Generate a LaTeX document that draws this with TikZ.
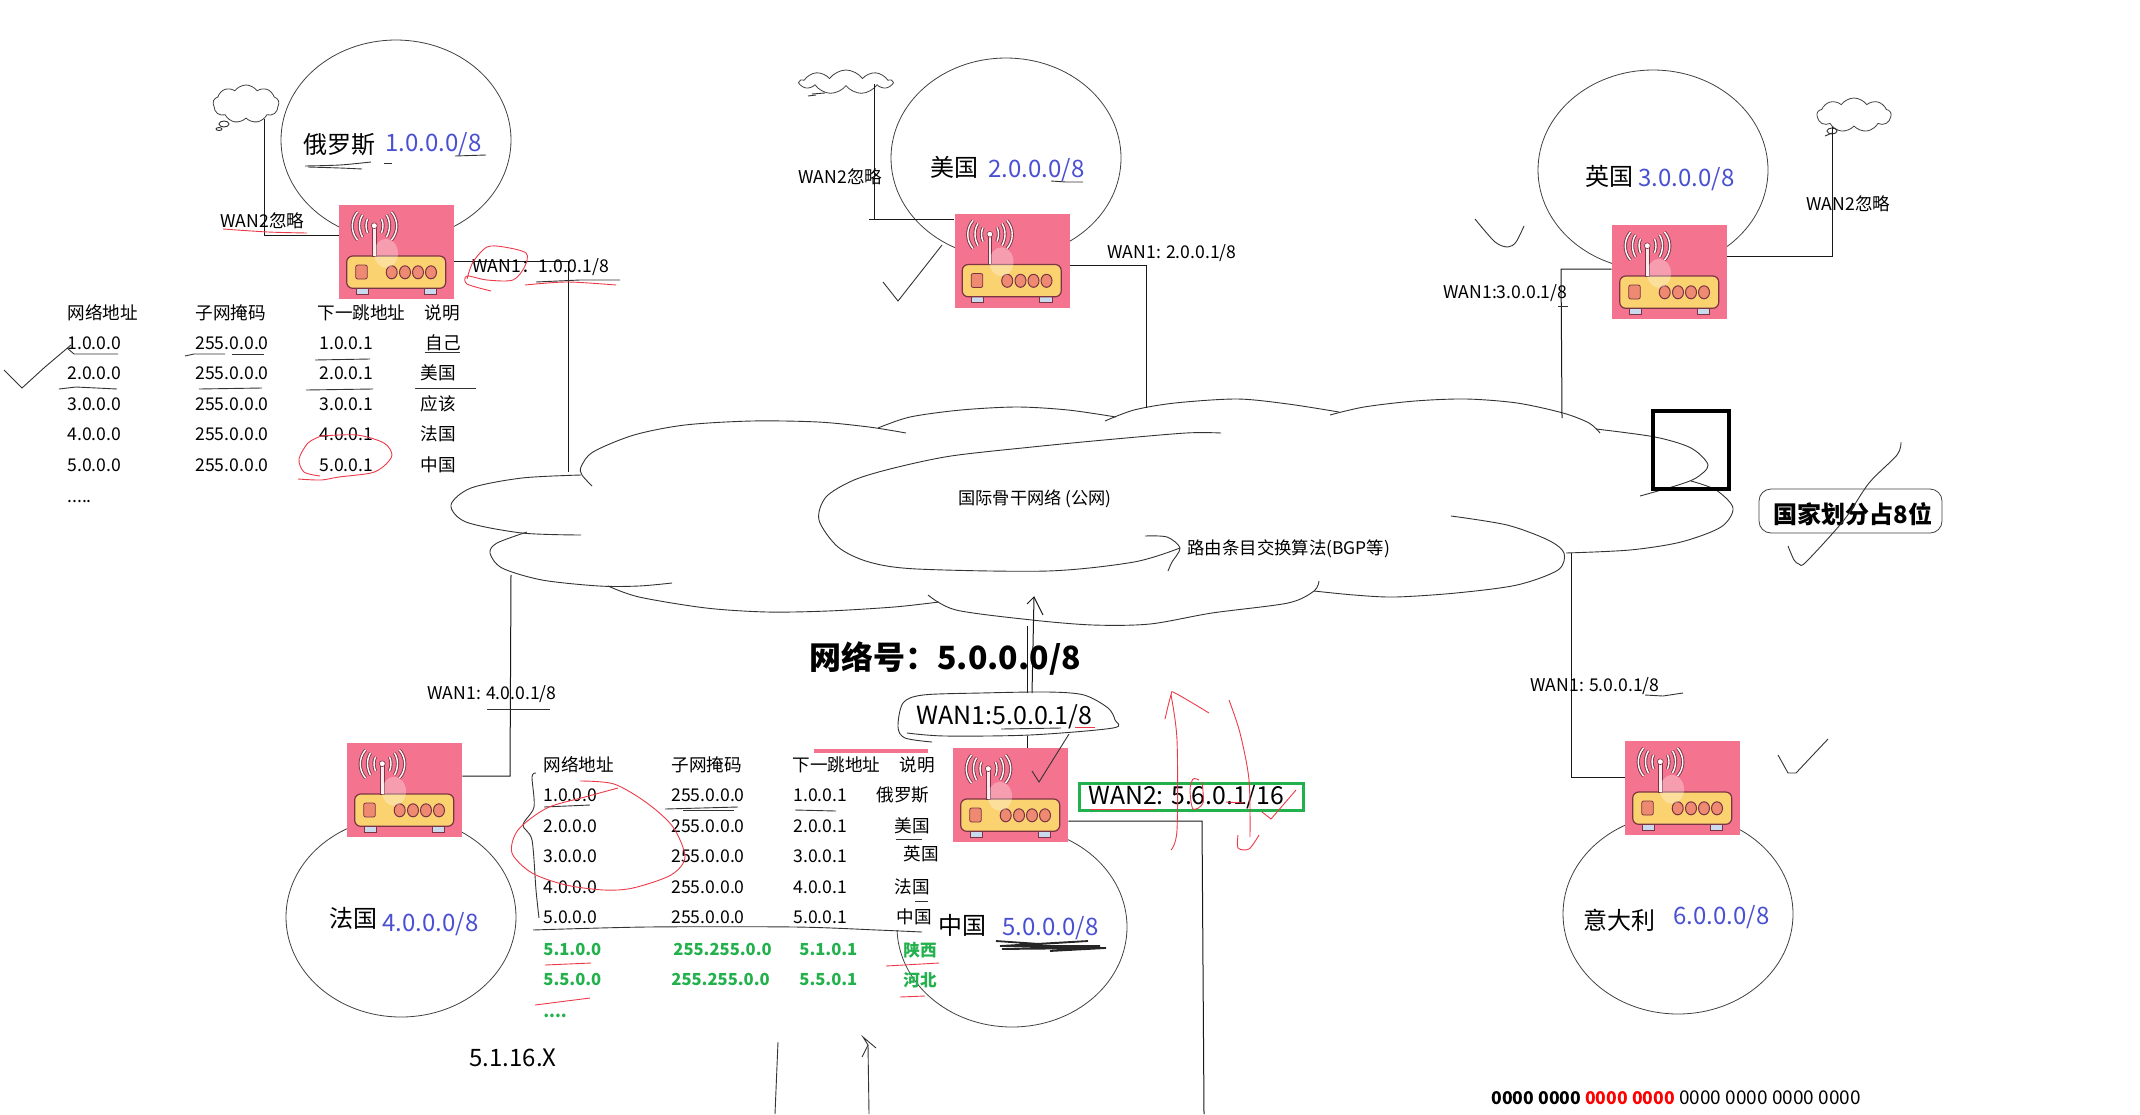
\documentclass[tikz,border=0pt]{standalone}
\usepackage{fontspec}
\setmainfont{Noto Sans CJK SC}
\usetikzlibrary{shapes.geometric, shapes.symbols}

\definecolor{routerpink}{HTML}{F4738F}
\definecolor{routerbody}{HTML}{FBD270}
\definecolor{routerlamp}{HTML}{EF8A72}
\definecolor{routerfoot}{HTML}{C9D9EE}
\definecolor{routerdark}{HTML}{7A3444}
\definecolor{netblue}{HTML}{4A50D2}
\definecolor{routegreen}{HTML}{22B14C}
\definecolor{redpen}{HTML}{EC3A4A}

\tikzset{
	lab/.style={anchor=west, inner sep=0pt, text height=7pt, text depth=1pt, font=\fontsize{8.8}{11}\selectfont},
	big/.style={anchor=west, inner sep=0pt, text height=9.5pt, text depth=1.5pt, font=\fontsize{12}{14}\selectfont},
	net/.style={big, text=netblue},
	newrow/.style={lab, text=routegreen, font=\fontsize{8.3}{11}\selectfont\bfseries},
	country/.style={draw=black!75, line width=0.4pt, ellipse, inner sep=0pt, minimum width=115pt, minimum height=100pt},
	sky/.style={draw=black!75, line width=0.4pt, cloud, cloud puffs=9, cloud puff arc=110, inner sep=0pt},
	wire/.style={line width=0.5pt, black!90},
	ink/.style={line width=0.45pt, black!80},
	redink/.style={line width=0.45pt, redpen},
	aerial/.style={draw=routerdark, double=white, double distance=0.7pt, line width=0.45pt},
	router/.pic={
		\node (box) [fill=routerpink, inner sep=0pt, minimum width=57.5pt, minimum height=47pt] at (0,0) {};
		\draw [draw=routerdark, fill=routerfoot, line width=0.4pt] (-40.5,34) rectangle (-28.2,42);
		\draw [draw=routerdark, fill=routerfoot, line width=0.4pt] (27.5,34) rectangle (40,42);
		\draw [draw=routerdark, fill=routerbody, line width=0.6pt, rounded corners=3pt] (-49.8,4) rectangle (49.2,36.3);
		\draw [draw=routerdark, fill=routerlamp, line width=0.4pt, rounded corners=1pt] (-40.8,13) rectangle (-29.2,27);
		\draw [draw=routerdark, fill=routerlamp, line width=0.5pt] (-4.8,20.3) ellipse [x radius=5.5, y radius=6.5];
		\draw [draw=routerdark, fill=routerlamp, line width=0.5pt] (8.5,20.3) ellipse [x radius=5.5, y radius=6.5];
		\draw [draw=routerdark, fill=routerlamp, line width=0.5pt] (21.5,20.3) ellipse [x radius=5.5, y radius=6.5];
		\draw [draw=routerdark, fill=routerlamp, line width=0.5pt] (34.5,20.3) ellipse [x radius=5.5, y radius=6.5];
		\draw [draw=routerdark, fill=white!85!routerpink, line width=0.3pt] (-23.8,-25) rectangle (-20.6,4);
		\draw [draw=routerdark, fill=white, line width=0.3pt] (-22.2,-26.3) circle [radius=2.9];
		\draw [aerial] (-29,-33) .. controls (-31,-29) and (-31,-24) .. (-29,-19);
		\draw [aerial] (-34,-37) .. controls (-38,-31) and (-38,-22) .. (-34,-15);
		\draw [aerial] (-39,-40) .. controls (-46,-32) and (-46,-20) .. (-39,-12);
		\draw [aerial] (-15,-33) .. controls (-13,-29) and (-13,-24) .. (-15,-19);
		\draw [aerial] (-10,-37) .. controls (-6,-31) and (-6,-22) .. (-10,-15);
		\draw [aerial] (-5,-40) .. controls (2,-32) and (2,-20) .. (-5,-12);
		\fill [white, opacity=0.3] (-10.5,1.3) ellipse [x radius=12, y radius=14.5];
	}
}

\begin{document}
\begin{tikzpicture}[x=0.5pt, y=-0.5pt]
	\useasboundingbox (0,0) rectangle (2140,1114);

	% countries
	\node (rucircle) [country] at (396,140) {};
	\node (uscircle) [country] at (1006,158) {};
	\node (ukcircle) [country] at (1653,170) {};
	\node (frcircle) [country] at (401,917) {};
	\node (cncircle) [country] at (1012,927) {};
	\node (itcircle) [country] at (1678,914) {};
	\fill [white] (880,740) rectangle (953,930);

	% routers
	\pic (ru) at (396.5,252) {router};
	\pic (us) at (1012,260.5) {router};
	\pic (uk) at (1669.5,272) {router};
	\pic (fr) at (404.5,790) {router};
	\pic (cn) at (1010.5,795) {router};
	\pic (it) at (1682.5,788) {router};

	% small clouds
	\node (rusky) [sky, aspect=1.7, minimum width=33pt, minimum height=19pt] at (246,104) {};
	\draw [ink] (224,124) ellipse [x radius=5, y radius=3];
	\draw [ink] (219,129) ellipse [x radius=3, y radius=1.5];
	\node (ussky) [sky, aspect=4, minimum width=46pt, minimum height=12pt] at (846,82) {};
	\draw [ink] (812,94) -- (825,93);
	\draw [ink] (808,96) -- (816,95);
	\node (uksky) [sky, aspect=2, minimum width=37pt, minimum height=17pt] at (1854,115) {};
	\draw [ink] (1832,131) ellipse [x radius=5, y radius=3];
	\draw [ink] (1825,136) -- (1832,133);

	% main cloud
	\draw [ink] plot [smooth] coordinates {(581,475) (522,478) (471,488) (451,505) (466,522) (522,533) (581,535)};
	\draw [ink] plot [smooth] coordinates {(592,486) (582,475) (581,467) (593,452) (634,435) (685,425) (752,421) (818,422) (869,427) (906,433)};
	\draw [ink] plot [smooth] coordinates {(878,428) (910,417) (961,410) (1017,407) (1068,410) (1116,417)};
	\draw [ink] plot [smooth] coordinates {(1105,421) (1134,410) (1175,403) (1237,399) (1288,404) (1339,412)};
	\draw [ink] plot [smooth] coordinates {(1330,415) (1364,407) (1415,401) (1466,399) (1517,403) (1563,413) (1589,423) (1600,433)};
	\draw [ink] plot [smooth] coordinates {(1596,429) (1655,437) (1691,448) (1708,465) (1696,478) (1675,486) (1640,496)};
	\draw [ink] plot [smooth] coordinates {(1691,481) (1716,490) (1733,508) (1721,527) (1681,542) (1630,550) (1566,553)};
	\draw [ink] plot [smooth] coordinates {(1451,516) (1507,525) (1548,540) (1564,553) (1558,570) (1517,585) (1456,593) (1395,597) (1354,595) (1314,591)};
	\draw [ink] plot [smooth] coordinates {(928,595) (956,610) (1032,620) (1093,625) (1150,624) (1212,613) (1288,603) (1314,591) (1319,581)};
	\draw [ink] plot [smooth] coordinates {(608,586) (639,597) (706,608) (767,612) (828,611) (894,607) (939,602)};
	\draw [ink] plot [smooth] coordinates {(527,532) (497,543) (490,553) (502,568) (542,580) (599,586) (639,586) (672,583)};

	% inner cloud, ending in the arrow
	\draw [ink] plot [smooth] coordinates {(1221,433) (1186,433) (1104,440) (1032,447) (951,456) (894,468) (854,480) (826,497) (819,520) (838,547) (869,562) (917,569) (1048,571) (1134,562) (1180,548)};
	\draw [ink] plot [smooth] coordinates {(1145,536) (1167,537) (1180,548) (1172,562) (1168,571)};

	% WAN1 lines
	\coordinate (ruturn) at (568,261);
	\coordinate (ruend) at (568,472);
	\draw [wire] (rubox.east |- ruturn) -- (ruturn) -- (ruend);
	\coordinate (usturn) at (1146,265);
	\coordinate (usend) at (1146,408);
	\draw [wire] (usbox.east |- usturn) -- (usturn) -- (usend);
	\coordinate (ukturn) at (1561,269);
	\coordinate (ukend) at (1562,418);
	\draw [wire] (ukbox.west |- ukturn) -- (ukturn) -- (ukend);
	\coordinate (frturn) at (510,776);
	\coordinate (frend) at (511,575);
	\draw [wire] (frbox.east |- frturn) -- (frturn) -- (frend);
	\coordinate (itturn) at (1571,777);
	\coordinate (itend) at (1571,553);
	\draw [wire] (itbox.west |- itturn) -- (itturn) -- (itend);

	% WAN2 lines
	\coordinate (ruskyturn) at (264,235);
	\draw [wire] (rubox.west |- ruskyturn) -- (ruskyturn) -- (ruskyturn |- rusky.south);
	\coordinate (usskyturn) at (874,219);
	\coordinate (usskyend) at (874,84);
	\draw [wire] (usbox.west |- usskyturn) -- (869,219);
	\draw [wire] (usskyturn) -- (usskyend);
	\coordinate (ukskyturn) at (1832,256);
	\draw [wire] (ukbox.east |- ukskyturn) -- (ukskyturn) -- (ukskyturn |- uksky.south);
	\coordinate (cnturn) at (1202,821);
	\coordinate (cnend) at (1204,1114);
	\draw [wire] (cnbox.east |- cnturn) -- (cnturn) -- (cnend);

	% China WAN1 and the lines going up
	\coordinate (cnupa) at (1027,693);
	\coordinate (cnupb) at (1027,626);
	\coordinate (cnupc) at (1032,693);
	\coordinate (cnupd) at (1034,597);
	\draw [wire] (cnbox.north -| cnupa) -- (1027,736);
	\draw [wire] (cnupa) -- (cnupb);
	\draw [wire] (cnupc) -- (cnupd);
	\draw [wire] (1027,604) -- (cnupd) -- (1043,615);
	\coordinate (lowa) at (778,1042);
	\coordinate (lowb) at (775,1114);
	\draw [ink] (lowa) -- (lowb);
	\coordinate (lowc) at (869,1114);
	\coordinate (lowd) at (868,1045);
	\draw [ink] (lowc) -- (lowd);
	\draw [ink] (862,1057) -- (868,1045) -- (863,1037) -- (876,1048);

	% country names
	\node (runame) [big] at (303,145) {俄罗斯};
	\node (runet) [net] at (385,143) {1.0.0.0/8};
	\node (usname) [big] at (930,168) {美国};
	\node (usnet) [net] at (988,169) {2.0.0.0/8};
	\node (ukname) [big] at (1585,177) {英国};
	\node (uknet) [net] at (1638,178) {3.0.0.0/8};
	\node (frname) [big] at (329,919) {法国};
	\node (frnet) [net] at (382,923) {4.0.0.0/8};
	\node (cnname) [big] at (938,926) {中国};
	\node (cnnet) [net] at (1002,927) {5.0.0.0/8};
	\node (itname) [big] at (1583,921) {意大利};
	\node (itnet) [net] at (1673,916) {6.0.0.0/8};

	% interface labels
	\node (ruwan2) [lab] at (220,221) {WAN2忽略};
	\node (ruwan1) [lab] at (472,266) {WAN1：1.0.0.1/8};
	\node (uswan2) [lab] at (798,177) {WAN2忽略};
	\node (uswan1) [lab] at (1107,252) {WAN1: 2.0.0.1/8};
	\node (ukwan1) [lab] at (1443,292) {WAN1:3.0.0.1/8};
	\node (ukwan2) [lab] at (1806,204) {WAN2忽略};
	\node (frwan1) [lab] at (427,693) {WAN1: 4.0.0.1/8};
	\node (itwan1) [lab] at (1530,685) {WAN1: 5.0.0.1/8};
	\node (cnwan1) [big, font=\fontsize{12.5}{14}\selectfont] at (916,716) {WAN1:5.0.0.1/8};
	\node (cnwan2) [big, font=\fontsize{12.4}{14}\selectfont] at (1088,796) {WAN2: 5.6.0.1/16};
	\node (cnwan2box) [draw=routegreen, line width=1.2pt, inner sep=0pt, minimum width=112pt, minimum height=13.5pt] at (1191.5,797) {};

	% big captions
	\node (netno) [anchor=west, inner sep=0pt, font=\fontsize{16}{20}\selectfont\bfseries] at (809,659) {网络号：5.0.0.0/8};
	\node (backbone) [anchor=west, inner sep=0pt, font=\fontsize{8.6}{10}\selectfont] at (958,499) {国际骨干网络 (公网)};
	\node (bgp) [anchor=west, inner sep=0pt, font=\fontsize{8.7}{10}\selectfont] at (1187,549) {路由条目交换算法(BGP等)};
	\node (host) [big] at (469,1058) {5.1.16.X};
	\node (bits) [anchor=west, inner sep=0pt, font=\fontsize{9.5}{11}\selectfont] at (1491,1098) {{\fontsize{8.8}{11}\selectfont\bfseries 0000 0000 \textcolor{red}{0000 0000}} 0000 0000 0000 0000};

	% the square and the callout
	\node (mark) [draw, line width=2pt, inner sep=0pt, minimum width=38pt, minimum height=39pt] at (1691,450) {};
	\node (eightbits) [draw=black!75, line width=0.4pt, rounded corners=6pt, inner sep=0pt, minimum width=91.5pt, minimum height=22pt] at (1850.5,511) {};
	\node (eightbitstext) [anchor=center, inner sep=0pt, font=\fontsize{12}{14}\selectfont\bfseries] at (1853,514) {国家划分占8位};

	% table of the Russian router
	\node (ra0) [lab] at (67,313) {网络地址};
	\node (rb0) [lab] at (195,313) {子网掩码};
	\node (rc0) [lab] at (317,313) {下一跳地址};
	\node (rd0) [lab] at (424,313) {说明};
	\node (ra1) [lab] at (67,343) {1.0.0.0};
	\node (rb1) [lab] at (195,343) {255.0.0.0};
	\node (rc1) [lab] at (319,343) {1.0.0.1};
	\node (rd1) [lab] at (425,343) {自己};
	\node (ra2) [lab] at (67,373) {2.0.0.0};
	\node (rb2) [lab] at (195,373) {255.0.0.0};
	\node (rc2) [lab] at (319,373) {2.0.0.1};
	\node (rd2) [lab] at (420,373) {美国};
	\node (ra3) [lab] at (67,404) {3.0.0.0};
	\node (rb3) [lab] at (195,404) {255.0.0.0};
	\node (rc3) [lab] at (319,404) {3.0.0.1};
	\node (rd3) [lab] at (420,404) {应该};
	\node (ra4) [lab] at (67,434) {4.0.0.0};
	\node (rb4) [lab] at (195,434) {255.0.0.0};
	\node (rc4) [lab] at (319,434) {4.0.0.1};
	\node (rd4) [lab] at (420,434) {法国};
	\node (ra5) [lab] at (67,465) {5.0.0.0};
	\node (rb5) [lab] at (195,465) {255.0.0.0};
	\node (rc5) [lab] at (319,465) {5.0.0.1};
	\node (rd5) [lab] at (420,465) {中国};
	\node (ra6) [lab] at (67,496) {.....};

	% table of the Chinese router
	\node (ca0) [lab] at (543,765) {网络地址};
	\node (cb0) [lab] at (671,765) {子网掩码};
	\node (cc0) [lab] at (792,765) {下一跳地址};
	\node (cd0) [lab] at (899,765) {说明};
	\node (ca1) [lab] at (543,795) {1.0.0.0};
	\node (cb1) [lab] at (671,795) {255.0.0.0};
	\node (cc1) [lab] at (793,795) {1.0.0.1};
	\node (cd1) [lab] at (876,795) {俄罗斯};
	\node (ca2) [lab] at (543,826) {2.0.0.0};
	\node (cb2) [lab] at (671,826) {255.0.0.0};
	\node (cc2) [lab] at (793,826) {2.0.0.1};
	\node (cd2) [lab] at (894,826) {美国};
	\node (ca3) [lab] at (543,856) {3.0.0.0};
	\node (cb3) [lab] at (671,856) {255.0.0.0};
	\node (cc3) [lab] at (793,856) {3.0.0.1};
	\node (cd3) [lab] at (903,854) {英国};
	\node (ca4) [lab] at (543,887) {4.0.0.0};
	\node (cb4) [lab] at (671,887) {255.0.0.0};
	\node (cc4) [lab] at (793,887) {4.0.0.1};
	\node (cd4) [lab] at (894,887) {法国};
	\node (ca5) [lab] at (543,917) {5.0.0.0};
	\node (cb5) [lab] at (671,917) {255.0.0.0};
	\node (cc5) [lab] at (793,917) {5.0.0.1};
	\node (cd5) [lab] at (896,917) {中国};
	\node (ca6) [newrow] at (543,949) {5.1.0.0};
	\node (cb6) [newrow] at (673,949) {255.255.0.0};
	\node (cc6) [newrow] at (799,949) {5.1.0.1};
	\node (cd6) [newrow] at (903,950) {陕西};
	\node (ca7) [newrow] at (543,979) {5.5.0.0};
	\node (cb7) [newrow] at (671,979) {255.255.0.0};
	\node (cc7) [newrow] at (799,979) {5.5.0.1};
	\node (cd7) [newrow] at (903,980) {河北};
	\node (ca8) [newrow] at (543,1011) {....};
	\draw [line width=2pt, routerpink] (814,751) -- (928,751);

	% pen marks, black
	\draw [ink] plot [smooth] coordinates {(305,166) (340,165) (371,162)};
	\draw [ink] plot [smooth] coordinates {(308,167) (340,168) (362,169)};
	\draw [ink] (384,163) -- (392,163);
	\draw [ink] (455,156) -- (486,155);
	\draw [ink] (536,282) -- (580,280) -- (620,280);
	\draw [ink] (4,370) -- (22,388) -- (45,367) -- (71,345);
	\draw [ink] (67,348) -- (74,354) -- (118,354);
	\draw [ink] (185,356) -- (194,354) -- (225,354);
	\draw [ink] (232,354) -- (264,354);
	\draw [ink] (315,360) -- (370,359);
	\draw [ink] (425,352) -- (460,352);
	\draw [ink] (59,389) -- (76,387) -- (117,389);
	\draw [ink] (199,389) -- (262,388);
	\draw [ink] (306,390) -- (373,389);
	\draw [ink] (415,388) -- (476,388);
	\draw [ink] (942,245) -- (898,301) -- (883,282);
	\draw [ink] (1051,181) -- (1066,182) -- (1083,182);
	\draw [ink] plot [smooth] coordinates {(1475,219) (1495,242) (1508,247) (1516,242) (1524,226)};
	\draw [ink] (1558,306) -- (1568,306);
	\draw [ink] (487,709) -- (550,709);
	\draw [ink] (1645,695) -- (1663,696) -- (1683,693);
	\draw [ink] (1778,755) -- (1788,773) -- (1796,773) -- (1828,739);
	\draw [ink] plot [smooth] coordinates {(1788,546) (1794,560) (1799,564) (1806,562) (1844,520) (1869,483) (1897,455) (1901,442)};
	\draw [ink] plot [smooth] coordinates {(932,742) (905,738) (898,727) (903,703) (923,695) (981,693) (1048,692) (1084,695) (1108,708) (1115,720) (1113,728) (1030,735) (945,736) (907,733)};
	\draw [ink] (1001,729) -- (1061,728);
	\draw [ink] (1069,734) -- (1039,782) -- (1032,771);
	\draw [ink] plot [smooth] coordinates {(536,773) (532,777) (534,807) (523,825) (532,840) (536,890) (539,918)};
	\draw [ink] (544,807) -- (590,805);
	\draw [ink] (665,809) -- (738,807);
	\draw [ink] (683,810) -- (734,810);
	\draw [ink] (795,810) -- (836,811);
	\draw [ink] (896,839) -- (922,839);
	\draw [ink] (915,901) -- (928,901);
	\draw [ink] plot [smooth] coordinates {(533,930) (647,927) (795,927) (877,930) (922,932)};
	\draw [line width=0.9pt, black!85] (996,941) -- (1040,944) -- (1088,941) -- (1000,946) -- (1100,946) -- (1002,949) -- (1106,948) -- (1050,951);

	% pen marks, red
	\draw [redink] plot [smooth] coordinates {(223,229) (268,232) (307,233)};
	\draw [redink] plot [smooth] coordinates {(467,279) (473,262) (487,247) (504,247) (526,253) (525,266) (513,280) (487,280) (467,276) (467,284) (491,291)};
	\draw [redink] plot [smooth] coordinates {(525,285) (567,282) (616,285)};
	\draw [redink] plot [smooth] coordinates {(321,436) (357,435) (384,443) (392,455) (384,466) (371,473) (339,477) (321,480) (298,479)};
	\draw [redink] plot [smooth] coordinates {(320,476) (304,472) (299,459) (308,443) (321,436)};
	\draw [redink] plot [smooth] coordinates {(580,781) (614,784) (647,803) (673,827) (685,857) (671,875) (633,888) (604,890) (566,885) (532,873) (512,853) (518,830) (547,808) (585,797) (618,788)};
	\draw [redink] (545,965) -- (591,963);
	\draw [redink] (886,966) -- (939,963);
	\draw [redink] (535,1005) -- (590,998);
	\draw [redink] (900,997) -- (925,996);
	\draw [redink] (1075,727) -- (1095,727);
	\draw [redink] (1090,809) -- (1155,809);
	\draw [redink] (1226,802) -- (1244,803);
	\draw [redink] plot [smooth] coordinates {(1171,850) (1177,830) (1177,740) (1171,695)};
	\draw [redink] plot [smooth] coordinates {(1165,719) (1171,695) (1175,693) (1209,713)};
	\draw [redink] plot [smooth] coordinates {(1229,700) (1240,733) (1249,780) (1250,837)};
	\draw [redink] plot [smooth] coordinates {(1259,835) (1249,849) (1238,848) (1238,835)};
	\draw [redink] plot [smooth] coordinates {(1199,780) (1193,779) (1190,790) (1193,809) (1203,803) (1202,782)};
	\draw [redink] (1262,812) -- (1271,819) -- (1296,790);
\end{tikzpicture}
\end{document}
